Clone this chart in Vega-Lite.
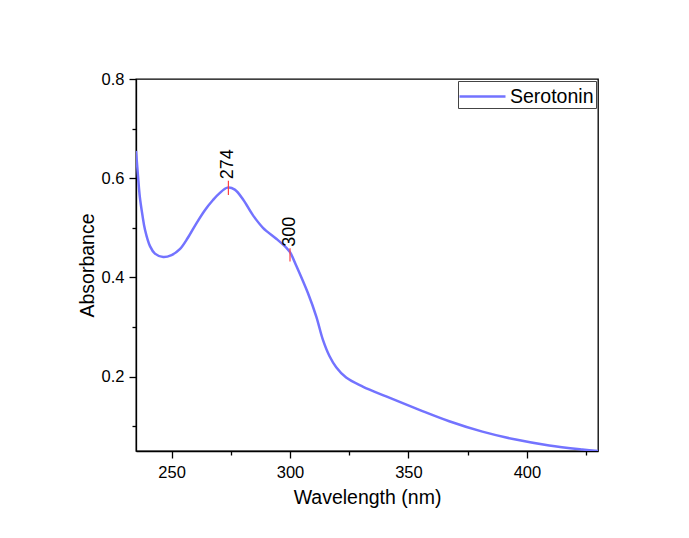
{
  "$schema": "https://vega.github.io/schema/vega-lite/v6.json",
  "width": 462,
  "height": 372,
  "autosize": {"type": "none"},
  "padding": {"left": 136, "top": 79, "right": 91, "bottom": 87},
  "background": "white",
  "config": {
    "font": "Liberation Sans",
    "view": {"stroke": "#000", "strokeWidth": 1.3},
    "axis": {
      "grid": false,
      "domainColor": "#000",
      "domainWidth": 1.3,
      "tickColor": "#000",
      "tickWidth": 1.3,
      "labelColor": "#000",
      "labelFont": "Liberation Sans",
      "labelFontSize": 16.5,
      "titleFont": "Liberation Sans",
      "titleFontSize": 19.5,
      "titleFontWeight": "normal",
      "titleColor": "#000"
    }
  },
  "datasets": {
    "spectrum": [
      {"wl": 235.0, "abs": 0.655, "series": "Serotonin"},
      {"wl": 235.8, "abs": 0.607, "series": "Serotonin"},
      {"wl": 236.6, "abs": 0.563, "series": "Serotonin"},
      {"wl": 237.7, "abs": 0.526, "series": "Serotonin"},
      {"wl": 238.8, "abs": 0.496, "series": "Serotonin"},
      {"wl": 240.9, "abs": 0.463, "series": "Serotonin"},
      {"wl": 243.0, "abs": 0.448, "series": "Serotonin"},
      {"wl": 246.5, "abs": 0.441, "series": "Serotonin"},
      {"wl": 250.0, "abs": 0.445, "series": "Serotonin"},
      {"wl": 253.5, "abs": 0.457, "series": "Serotonin"},
      {"wl": 256.9, "abs": 0.480, "series": "Serotonin"},
      {"wl": 260.5, "abs": 0.509, "series": "Serotonin"},
      {"wl": 264.0, "abs": 0.535, "series": "Serotonin"},
      {"wl": 267.5, "abs": 0.556, "series": "Serotonin"},
      {"wl": 270.3, "abs": 0.570, "series": "Serotonin"},
      {"wl": 273.6, "abs": 0.581, "series": "Serotonin"},
      {"wl": 276.7, "abs": 0.577, "series": "Serotonin"},
      {"wl": 280.2, "abs": 0.557, "series": "Serotonin"},
      {"wl": 284.4, "abs": 0.525, "series": "Serotonin"},
      {"wl": 288.6, "abs": 0.500, "series": "Serotonin"},
      {"wl": 294.2, "abs": 0.478, "series": "Serotonin"},
      {"wl": 298.4, "abs": 0.460, "series": "Serotonin"},
      {"wl": 300.0, "abs": 0.451, "series": "Serotonin"},
      {"wl": 302.7, "abs": 0.423, "series": "Serotonin"},
      {"wl": 307.6, "abs": 0.368, "series": "Serotonin"},
      {"wl": 311.1, "abs": 0.321, "series": "Serotonin"},
      {"wl": 313.9, "abs": 0.274, "series": "Serotonin"},
      {"wl": 316.7, "abs": 0.241, "series": "Serotonin"},
      {"wl": 319.5, "abs": 0.219, "series": "Serotonin"},
      {"wl": 323.7, "abs": 0.198, "series": "Serotonin"},
      {"wl": 330.7, "abs": 0.180, "series": "Serotonin"},
      {"wl": 340.6, "abs": 0.160, "series": "Serotonin"},
      {"wl": 354.6, "abs": 0.133, "series": "Serotonin"},
      {"wl": 367.2, "abs": 0.110, "series": "Serotonin"},
      {"wl": 381.2, "abs": 0.089, "series": "Serotonin"},
      {"wl": 395.3, "abs": 0.073, "series": "Serotonin"},
      {"wl": 409.4, "abs": 0.061, "series": "Serotonin"},
      {"wl": 423.4, "abs": 0.053, "series": "Serotonin"},
      {"wl": 430.0, "abs": 0.050, "series": "Serotonin"}
    ],
    "peaks": [
      {"wl": 274, "lo": 0.566, "hi": 0.595, "ty": 0.598, "label": "274"},
      {"wl": 300, "lo": 0.432, "hi": 0.459, "ty": 0.462, "label": "300"}
    ]
  },
  "layer": [
    {
      "data": {"name": "spectrum"},
      "mark": {"type": "line", "interpolate": "catmull-rom", "strokeWidth": 2.5, "clip": true},
      "encoding": {
        "x": {
          "field": "wl", "type": "quantitative",
          "scale": {"domain": [235, 430], "nice": false, "zero": false},
          "axis": {"values": [250, 300, 350, 400], "title": "Wavelength (nm)", "tickSize": 7, "labelPadding": 6, "titlePadding": 8, "orient": "bottom"}
        },
        "y": {
          "field": "abs", "type": "quantitative",
          "scale": {"domain": [0.05, 0.8], "nice": false, "zero": false},
          "axis": {"values": [0.2, 0.4, 0.6, 0.8], "format": ".1f", "title": "Absorbance", "tickSize": 7, "labelPadding": 5, "titlePadding": 4, "orient": "left"}
        },
        "color": {
          "field": "series", "type": "nominal",
          "scale": {"range": ["#7373ff"]},
          "legend": {
            "title": null,
            "orient": "top-right",
            "offset": 2,
            "symbolType": "M-1.917,0H1.917",
            "symbolSize": 576,
            "symbolOffset": 9,
            "symbolStrokeWidth": 2.5,
            "labelFont": "Liberation Sans",
            "labelFontSize": 19.5,
            "labelColor": "#000",
            "labelOffset": 14,
            "padding": 2,
            "strokeColor": "#444",
            "fillColor": "white"
          }
        }
      }
    },
    {
      "data": {"name": "peaks"},
      "mark": {"type": "rule", "color": "#ff4040", "strokeWidth": 1.2},
      "encoding": {
        "x": {
          "field": "wl", "type": "quantitative",
          "scale": {"domain": [235, 430], "nice": false, "zero": false},
          "axis": {"values": [275, 325, 375, 425], "labels": false, "domain": false, "tickSize": 4, "title": null, "orient": "bottom"}
        },
        "y": {
          "field": "lo", "type": "quantitative",
          "scale": {"domain": [0.05, 0.8], "nice": false, "zero": false},
          "axis": {"values": [0.1, 0.3, 0.5, 0.7], "labels": false, "domain": false, "tickSize": 4, "title": null, "orient": "left"}
        },
        "y2": {"field": "hi"}
      }
    },
    {
      "data": {"name": "peaks"},
      "mark": {"type": "text", "angle": 270, "align": "left", "baseline": "middle", "fontSize": 18, "font": "Liberation Sans", "color": "#000"},
      "encoding": {
        "x": {"field": "wl", "type": "quantitative", "scale": {"domain": [235, 430], "nice": false, "zero": false}, "axis": null},
        "y": {"field": "ty", "type": "quantitative", "scale": {"domain": [0.05, 0.8], "nice": false, "zero": false}, "axis": null},
        "text": {"field": "label"}
      }
    }
  ],
  "resolve": {"axis": {"x": "independent", "y": "independent"}}
}
